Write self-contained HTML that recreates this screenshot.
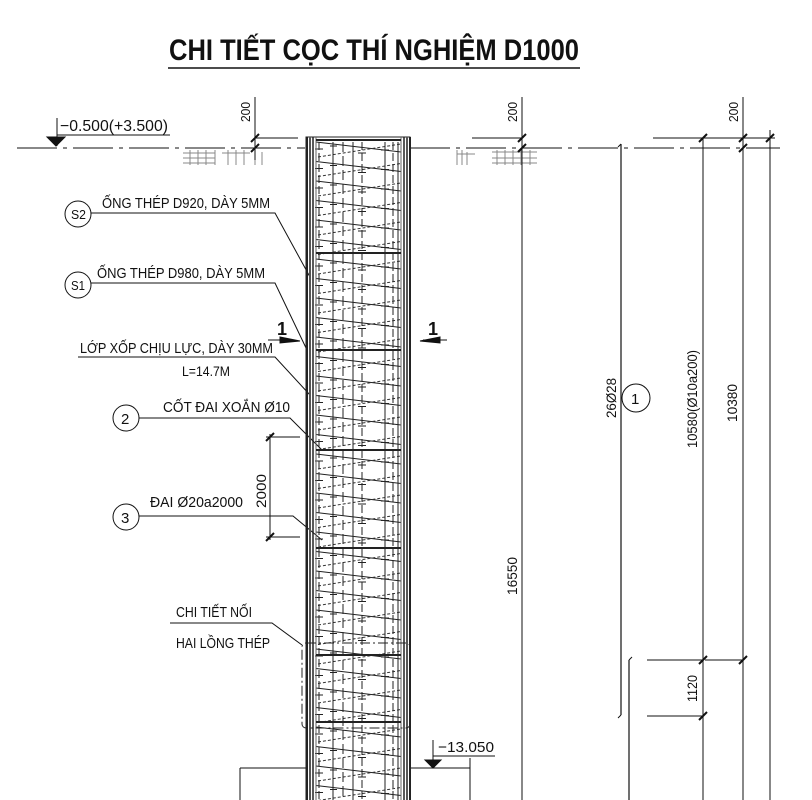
<!DOCTYPE html>
<html><head><meta charset="utf-8"><style>
html,body{margin:0;padding:0;background:#fff;}
svg{display:block;}
text{font-family:"Liberation Sans",sans-serif;fill:#111;}
</style></head><body>
<svg width="812" height="800" viewBox="0 0 812 800" xmlns="http://www.w3.org/2000/svg">
<defs>
<pattern id="sp" x="0" y="140" width="812" height="19.5" patternUnits="userSpaceOnUse">
<line x1="316" y1="2" x2="401" y2="12" stroke="#222" stroke-width="1"/>
<line x1="318" y1="17" x2="401" y2="4" stroke="#333" stroke-width="1" stroke-dasharray="3,2"/>
<line x1="315" y1="9" x2="323" y2="9" stroke="#222" stroke-width="1"/>
<line x1="330" y1="6" x2="337" y2="6" stroke="#222" stroke-width="1"/>
<line x1="358" y1="13" x2="366" y2="13" stroke="#222" stroke-width="1"/>
<line x1="381" y1="10" x2="389" y2="10" stroke="#222" stroke-width="1"/>
</pattern>
</defs>
<g stroke="#111" fill="none" stroke-width="1">
<line x1="168" y1="68" x2="580" y2="68" stroke-width="1.5"/>
<line x1="17" y1="148" x2="305" y2="148" stroke-dasharray="40,6,4,6"/>
<line x1="410" y1="148" x2="780" y2="148" stroke-dasharray="40,6,4,6"/>
<g stroke="#888">
<path d="M183 153H215M183 158H215M183 163H215M190 150V165M198 150V165M206 150V165M215 150V165M222 153H250M228 150V165M236 150V165M244 150V165M255 150V165M262 152V165"/>
<path d="M457 150V165M462 150V165M467 152V165M457 154H475M492 152H537M492 158H537M492 163H537M497 150V165M505 150V165M513 150V165M521 150V165M530 150V165"/>
</g>
<line x1="57" y1="118" x2="57" y2="146"/>
<line x1="57" y1="135" x2="170" y2="135"/>
<path d="M47 137H65L56 146Z" fill="#111"/>
<line x1="255" y1="97" x2="255" y2="160"/>
<line x1="255" y1="138" x2="298" y2="138"/>
<line x1="522" y1="97" x2="522" y2="800"/>
<line x1="472" y1="138" x2="522" y2="138"/>
<line x1="653" y1="138" x2="775" y2="138"/>
<line x1="703" y1="138" x2="703" y2="800"/>
<line x1="743" y1="97" x2="743" y2="800"/>
<line x1="770" y1="130" x2="770" y2="800"/>
<line x1="621" y1="144" x2="621" y2="715" stroke-width="1.2"/>
<line x1="621" y1="715" x2="618" y2="718"/>
<line x1="621" y1="144" x2="618" y2="147"/>
<line x1="629" y1="660" x2="629" y2="800" stroke-width="1.2"/>
<line x1="629" y1="660" x2="632" y2="657"/>
<line x1="647" y1="660" x2="703" y2="660"/>
<line x1="647" y1="716" x2="703" y2="716"/>
<line x1="705" y1="660" x2="743" y2="660"/>
<g stroke-width="2">
<path d="M251 142L259 134M251 152L259 144M518 142L526 134M518 152L526 144M699 142L707 134M739 142L747 134M766 142L774 134M739 152L747 144M699 664L707 656M699 720L707 712M739 664L747 656M266 441L274 433M266 541L274 533"/>
</g>
<circle cx="636" cy="398" r="14"/>
<circle cx="78" cy="214" r="13"/>
<path d="M91 213H275L310 277"/>
<circle cx="78" cy="285" r="13"/>
<path d="M91 283H275L307 350"/>
<path d="M78 357H275L310 395"/>
<circle cx="126" cy="418" r="13"/>
<path d="M139 418H290L322 450"/>
<circle cx="126" cy="517" r="13"/>
<path d="M139 516H293L322 540"/>
<path d="M170 623H272L302 645"/>
<line x1="270" y1="434" x2="270" y2="540"/>
<line x1="266" y1="437" x2="300" y2="437"/>
<line x1="266" y1="537" x2="300" y2="537"/>
<path d="M268 340H292"/><path d="M280 337L300 341L280 343Z" fill="#111"/>
<path d="M423 340H447"/><path d="M440 337L420 341L440 343Z" fill="#111"/>
<line x1="240" y1="768" x2="306" y2="768"/>
<line x1="240" y1="768" x2="240" y2="800"/>
<line x1="410" y1="768" x2="470" y2="768"/>
<line x1="470" y1="758" x2="470" y2="800"/>
<line x1="433" y1="740" x2="433" y2="765"/>
<line x1="433" y1="756" x2="495" y2="756"/>
<path d="M425 760H441L433 768Z" fill="#111"/>
</g>
<rect x="315" y="140" width="87" height="660" fill="url(#sp)"/>
<g stroke="#222" fill="none">
<rect x="306" y="137" width="104" height="700" fill="none" stroke-width="1"/>
<line x1="307" y1="137" x2="307" y2="800" stroke-width="2"/>
<line x1="310" y1="137" x2="310" y2="800" stroke="#555" stroke-width="2"/>
<line x1="313" y1="137" x2="313" y2="800" stroke-width="1.5"/>
<line x1="316" y1="137" x2="316" y2="800" stroke="#666"/>
<line x1="401" y1="137" x2="401" y2="800" stroke="#666"/>
<line x1="404" y1="137" x2="404" y2="800" stroke-width="1.5"/>
<line x1="407" y1="137" x2="407" y2="800" stroke="#555" stroke-width="2"/>
<line x1="410" y1="137" x2="410" y2="800" stroke-width="2"/>
<line x1="319" y1="142" x2="319" y2="800" stroke-dasharray="8,3"/>
<line x1="333" y1="142" x2="333" y2="800"/>
<line x1="343" y1="142" x2="343" y2="800" stroke-dasharray="10,4"/>
<line x1="353" y1="142" x2="353" y2="800"/>
<line x1="362" y1="142" x2="362" y2="800" stroke-dasharray="8,3"/>
<line x1="385" y1="142" x2="385" y2="800"/>
<line x1="393" y1="142" x2="393" y2="800" stroke-dasharray="8,3"/>
<line x1="398" y1="142" x2="398" y2="800"/>
<g stroke-width="2">
<line x1="316" y1="140" x2="401" y2="140"/>
<line x1="316" y1="253" x2="401" y2="253"/>
<line x1="316" y1="350" x2="401" y2="350"/>
<line x1="316" y1="450" x2="401" y2="450"/>
<line x1="316" y1="548" x2="401" y2="548"/>
<line x1="316" y1="655" x2="401" y2="655"/>
<line x1="316" y1="722" x2="401" y2="722"/>
</g>
<rect x="302" y="643" width="108" height="85" rx="4" stroke-dasharray="10,3,2,3"/>
</g>
<text x="374" y="60" font-size="30" font-weight="bold" text-anchor="middle" textLength="410" lengthAdjust="spacingAndGlyphs">CHI TIẾT CỌC THÍ NGHIỆM D1000</text>
<text x="60" y="131" font-size="16" textLength="108" lengthAdjust="spacingAndGlyphs">−0.500(+3.500)</text>
<text transform="translate(250,122) rotate(-90)" font-size="13" textLength="20" lengthAdjust="spacingAndGlyphs">200</text>
<text transform="translate(517,122) rotate(-90)" font-size="13" textLength="20" lengthAdjust="spacingAndGlyphs">200</text>
<text transform="translate(738,122) rotate(-90)" font-size="13" textLength="20" lengthAdjust="spacingAndGlyphs">200</text>
<text x="102" y="208" font-size="15" textLength="168" lengthAdjust="spacingAndGlyphs">ỐNG THÉP D920, DÀY 5MM</text>
<text x="71" y="219" font-size="13" textLength="15" lengthAdjust="spacingAndGlyphs">S2</text>
<text x="97" y="278" font-size="15" textLength="168" lengthAdjust="spacingAndGlyphs">ỐNG THÉP D980, DÀY 5MM</text>
<text x="71" y="290" font-size="13" textLength="14" lengthAdjust="spacingAndGlyphs">S1</text>
<text x="80" y="353" font-size="15" textLength="193" lengthAdjust="spacingAndGlyphs">LỚP XỐP CHỊU LỰC, DÀY 30MM</text>
<text x="182" y="376" font-size="14" textLength="48" lengthAdjust="spacingAndGlyphs">L=14.7M</text>
<text x="277" y="335" font-size="18" font-weight="bold">1</text>
<text x="428" y="335" font-size="18" font-weight="bold">1</text>
<text x="163" y="412" font-size="15" textLength="127" lengthAdjust="spacingAndGlyphs">CỐT ĐAI XOẮN Ø10</text>
<text x="121" y="424" font-size="15">2</text>
<text x="150" y="507" font-size="15" textLength="93" lengthAdjust="spacingAndGlyphs">ĐAI Ø20a2000</text>
<text x="121" y="523" font-size="15">3</text>
<text transform="translate(266,508) rotate(-90)" font-size="14" textLength="34" lengthAdjust="spacingAndGlyphs">2000</text>
<text x="176" y="617" font-size="15" textLength="76" lengthAdjust="spacingAndGlyphs">CHI TIẾT NỐI</text>
<text x="176" y="648" font-size="15" textLength="94" lengthAdjust="spacingAndGlyphs">HAI LỒNG THÉP</text>
<text transform="translate(517,595) rotate(-90)" font-size="14" textLength="38" lengthAdjust="spacingAndGlyphs">16550</text>
<text transform="translate(616,418) rotate(-90)" font-size="14" textLength="40" lengthAdjust="spacingAndGlyphs">26Ø28</text>
<text x="631" y="404" font-size="15">1</text>
<text transform="translate(697,448) rotate(-90)" font-size="14" textLength="98" lengthAdjust="spacingAndGlyphs">10580(Ø10a200)</text>
<text transform="translate(737,422) rotate(-90)" font-size="14" textLength="38" lengthAdjust="spacingAndGlyphs">10380</text>
<text transform="translate(697,702) rotate(-90)" font-size="14" textLength="27" lengthAdjust="spacingAndGlyphs">1120</text>
<text x="438" y="752" font-size="15" textLength="56" lengthAdjust="spacingAndGlyphs">−13.050</text>
</svg>
</body></html>
